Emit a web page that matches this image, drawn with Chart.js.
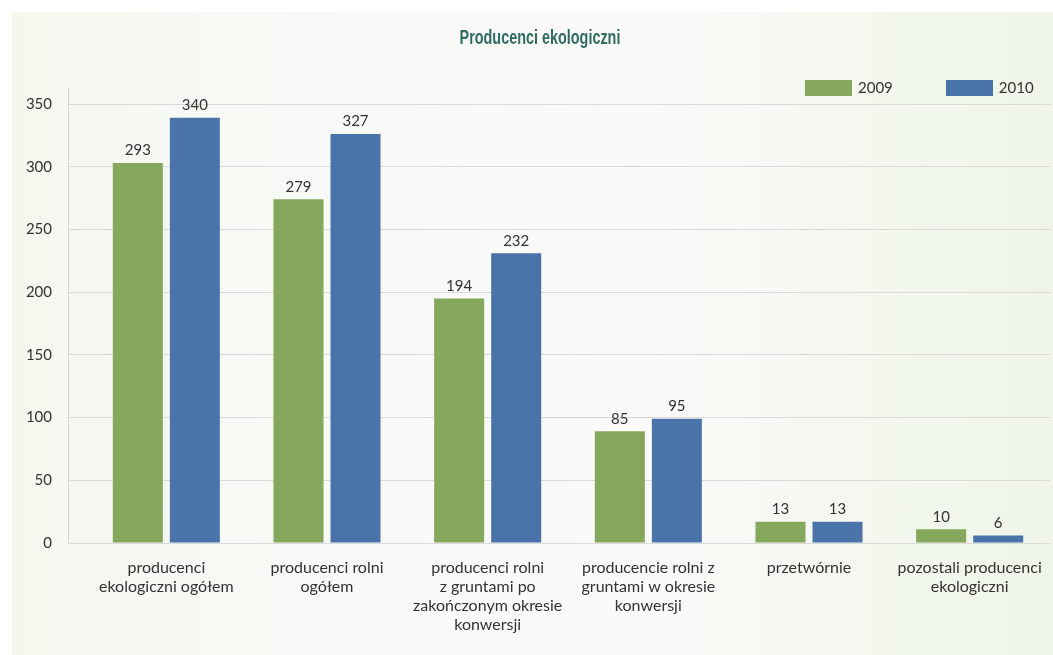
<!DOCTYPE html>
<html>
<head>
<meta charset="utf-8">
<script src="https://cdn.jsdelivr.net/npm/chart.js@4.4.1/dist/chart.umd.min.js"></script>
<style>
  body { margin: 0; background: #fff; }
  #panel {
    position: absolute; left: 12px; top: 12px; width: 1041px; height: 643px;
    background: linear-gradient(90deg, #f3f8ef 0%, #f9faf8 35%, #fafbf9 60%, #eef5e7 100%);
  }
  #title {
    position: absolute; left: 0; top: 14px; width: 1056px; text-align: center;
    font: bold 20px "Liberation Sans", sans-serif; color: #2f6b60;
    transform: scaleX(0.72); transform-origin: 528px 0;
  }
  #legend { position: absolute; top: 66px; left: 793px; font: 15px Lato, sans-serif; color: #333; white-space: nowrap; }
  #legend span.box { display: inline-block; width: 47px; height: 16px; vertical-align: -3px; margin-right: 6px; }
  #legend span.item { margin-right: 53px; }
</style>
</head>
<body>
<div id="panel">
  <canvas id="chart"></canvas>
  <div id="title">Producenci ekologiczni</div>
  <div id="legend"></div>
</div>
<script>
// kategorie i wartości
var categories = [
    ["producenci", "ekologiczni ogółem"],
    ["producenci rolni", "ogółem"],
    ["producenci rolni", "z gruntami po", "zakończonym okresie", "konwersji"],
    ["producencie rolni z", "gruntami w okresie", "konwersji"],
    ["przetwórnie"],
    ["pozostali producenci", "ekologiczni"]
];
var years = ["2009", "2010"];
// wysokości słupków (tak jak narysowane) i podpisane liczby
var bars2009 = [303, 274, 195, 89, 17, 11];
var bars2010 = [339, 326, 231, 99, 17, 6];
var text2009 = ["293", "279", "194", "85", "13", "10"];
var text2010 = ["340", "327", "232", "95", "13", "6"];
var yTicks = [0, 50, 100, 150, 200, 250, 300, 350];

var colors = ['#86a85c', '#4a73aa'];
var font = 'Lato, sans-serif';

// legend in html
var legendHtml = '';
years.forEach(function (y, i) {
    legendHtml += '<span class="item"><span class="box" style="background:' + colors[i] + '"></span>' + y + '</span>';
});
document.getElementById('legend').innerHTML = legendHtml;

var valueLabels = {
    id: 'valueLabels',
    afterDatasetsDraw: function (chart) {
        var ctx = chart.ctx;
        var texts = [text2009, text2010];
        ctx.save();
        ctx.font = '15px ' + font;
        ctx.fillStyle = '#333';
        ctx.textAlign = 'center';
        ctx.textBaseline = 'bottom';
        chart.data.datasets.forEach(function (ds, d) {
            chart.getDatasetMeta(d).data.forEach(function (bar, i) {
                ctx.fillText(texts[d][i], bar.x, bar.y - 5);
            });
        });
        ctx.restore();
    }
};

var axisLine = {
    id: 'axisLine',
    beforeDatasetsDraw: function (chart) {
        var ctx = chart.ctx;
        var y = chart.scales.y;
        ctx.save();
        ctx.strokeStyle = '#d4d4d4';
        ctx.lineWidth = 1;
        ctx.beginPath();
        ctx.moveTo(56.5, y.top - 16);
        ctx.lineTo(56.5, y.bottom);
        ctx.stroke();
        ctx.restore();
    }
};

Chart.defaults.font.family = font;
Chart.defaults.color = '#333';

var config = {
    type: 'bar',
    data: {
        labels: categories,
        datasets: [{
            label: years[0],
            data: bars2009,
            backgroundColor: colors[0]
        }, {
            label: years[1],
            data: bars2010,
            backgroundColor: colors[1]
        }]
    },
    plugins: [valueLabels, axisLine],
    options: {
        responsive: true,
        maintainAspectRatio: false,
        animation: false,
        layout: { padding: { top: 92, right: 3, bottom: 0 } },
        datasets: {
            bar: { categoryPercentage: 0.71, barPercentage: 0.877 }
        },
        plugins: {
            legend: { display: false },
            tooltip: { enabled: false }
        },
        scales: {
            x: {
                afterFit: function (scale) { scale.height = 112; },
                grid: { display: false },
                border: { display: false },
                ticks: { font: { size: 16 }, padding: 7, maxRotation: 0, autoSkip: false }
            },
            y: {
                min: 0,
                max: 350,
                afterFit: function (scale) { scale.width = 74; },
                afterBuildTicks: function (scale) {
                    scale.ticks = yTicks.map(function (v) { return { value: v }; });
                },
                border: { display: false },
                grid: { color: '#dadada', tickLength: 18, drawTicks: true },
                ticks: { font: { size: 15 }, padding: 16 }
            }
        }
    }
};

var chart = new Chart(document.getElementById('chart').getContext('2d'), config);
</script>
</body>
</html>
